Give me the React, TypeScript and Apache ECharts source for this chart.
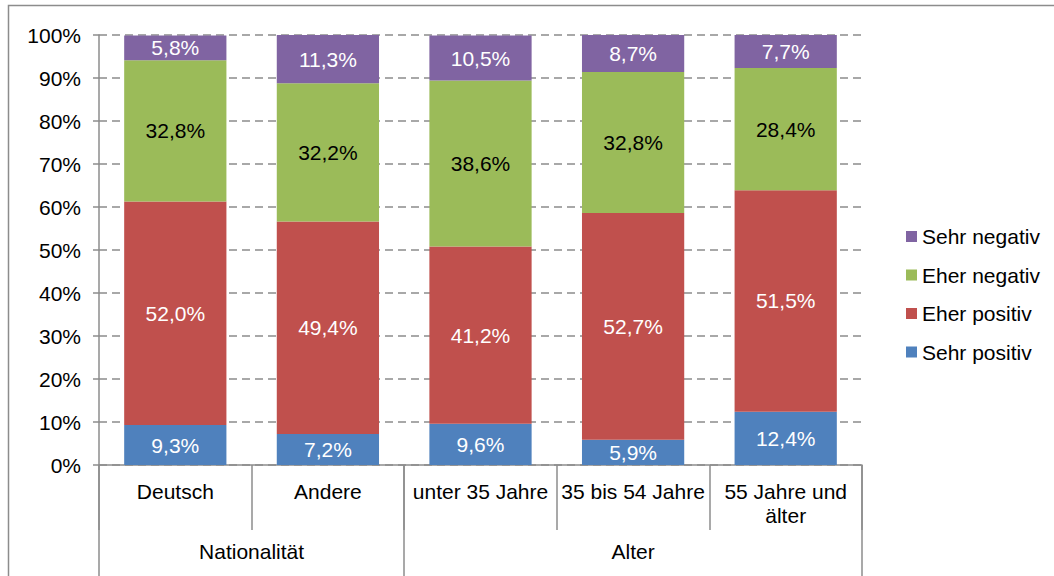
import React, { useEffect, useRef } from "react";
import * as echarts from "echarts";

// Categories, grouped on a second label row
const categories = ["Deutsch", "Andere", "unter 35 Jahre", "35 bis 54 Jahre", "55 Jahre und\nälter"];
const groupNames = ["Nationalität", "Alter"];
const groupSpans = [2, 3];

// Shares per answer (percent)
const sehrPositiv = [9.3, 7.2, 9.6, 5.9, 12.4];
const eherPositiv = [52.0, 49.4, 41.2, 52.7, 51.5];
const eherNegativ = [32.8, 32.2, 38.6, 32.8, 28.4];
const sehrNegativ = [5.8, 11.3, 10.5, 8.7, 7.7];

const seriesNames = ["Sehr positiv", "Eher positiv", "Eher negativ", "Sehr negativ"];
const seriesData = [sehrPositiv, eherPositiv, eherNegativ, sehrNegativ];
const seriesColors = ["#4F81BD", "#C0504D", "#9BBB59", "#8064A2"];
const labelColors = ["#ffffff", "#ffffff", "#000000", "#ffffff"];

const FONT = "Liberation Sans, Arial, sans-serif";
const AXIS_GRAY = "#8c8c8c";

export default function App() {
  const ref = useRef<HTMLDivElement>(null);

  useEffect(() => {
    if (!ref.current) return;
    const chart = echarts.init(ref.current, undefined, { renderer: "svg" });

    // group boundaries and centres in category units
    const bounds: number[] = [0];
    const centres: number[] = [];
    groupSpans.forEach((s) => {
      const start = bounds[bounds.length - 1];
      centres.push(start + s / 2);
      bounds.push(start + s);
    });

    const fmt = (v: number) => v.toFixed(1).replace(".", ",") + "%";

    chart.setOption({
      animation: false,
      textStyle: { fontFamily: FONT },
      graphic: [
        {
          type: "rect",
          z: -1,
          shape: { x: 8.5, y: 5.5, width: 1200, height: 800 },
          style: { fill: "none", stroke: AXIS_GRAY, lineWidth: 1.5 },
        },
      ],
      grid: { left: 99, right: 192, top: 35, bottom: 111, containLabel: false },
      legend: {
        orient: "vertical",
        left: 901,
        top: 221,
        itemWidth: 11,
        itemHeight: 11,
        itemGap: 17.5,
        icon: "rect",
        data: ["Sehr negativ", "Eher negativ", "Eher positiv", "Sehr positiv"],
        textStyle: { fontSize: 21, lineHeight: 21, color: "#000", fontFamily: FONT },
      },
      xAxis: [
        {
          type: "category",
          data: categories,
          position: "bottom",
          axisLine: { lineStyle: { color: AXIS_GRAY, width: 1.5 } },
          axisTick: { show: true, interval: 0, length: 65, lineStyle: { color: AXIS_GRAY, width: 1.5 } },
          axisLabel: {
            interval: 0,
            margin: 14,
            fontSize: 21,
            lineHeight: 24,
            color: "#000",
            fontFamily: FONT,
          },
        },
        {
          type: "value",
          min: 0,
          max: categories.length,
          position: "bottom",
          axisLine: { show: false },
          splitLine: { show: false },
          axisTick: {
            show: true,
            customValues: bounds,
            length: 111,
            lineStyle: { color: AXIS_GRAY, width: 1.5 },
          },
          axisLabel: {
            customValues: centres,
            margin: 74,
            fontSize: 21,
            lineHeight: 24,
            color: "#000",
            fontFamily: FONT,
            formatter: (v: number) => {
              const i = centres.indexOf(v);
              return i >= 0 ? groupNames[i] : "";
            },
          },
        },
      ],
      yAxis: {
        type: "value",
        min: 0,
        max: 100,
        interval: 10,
        axisLine: { show: true, lineStyle: { color: AXIS_GRAY, width: 1.5 } },
        axisTick: { show: true, length: 6, lineStyle: { color: AXIS_GRAY, width: 1.5 } },
        axisLabel: {
          margin: 18,
          fontSize: 21,
          color: "#000",
          fontFamily: FONT,
          formatter: (v: number) => `${v}%`,
        },
        splitLine: {
          show: true,
          lineStyle: { color: AXIS_GRAY, width: 1.5, type: [8, 5] },
        },
      },
      series: seriesNames.map((name, i) => ({
        name,
        type: "bar",
        stack: "total",
        xAxisIndex: 0,
        barCategoryGap: "33%",
        itemStyle: { color: seriesColors[i] },
        label: {
          show: true,
          position: "inside",
          fontSize: 21,
          color: labelColors[i],
          fontFamily: FONT,
          formatter: (p: any) => fmt(p.value),
        },
        data: seriesData[i],
      })),
    });

    return () => chart.dispose();
  }, []);

  return (
    <div
      ref={ref}
      style={{ position: "fixed", left: 0, top: 0, width: 1054, height: 576, background: "#fff" }}
    />
  );
}
